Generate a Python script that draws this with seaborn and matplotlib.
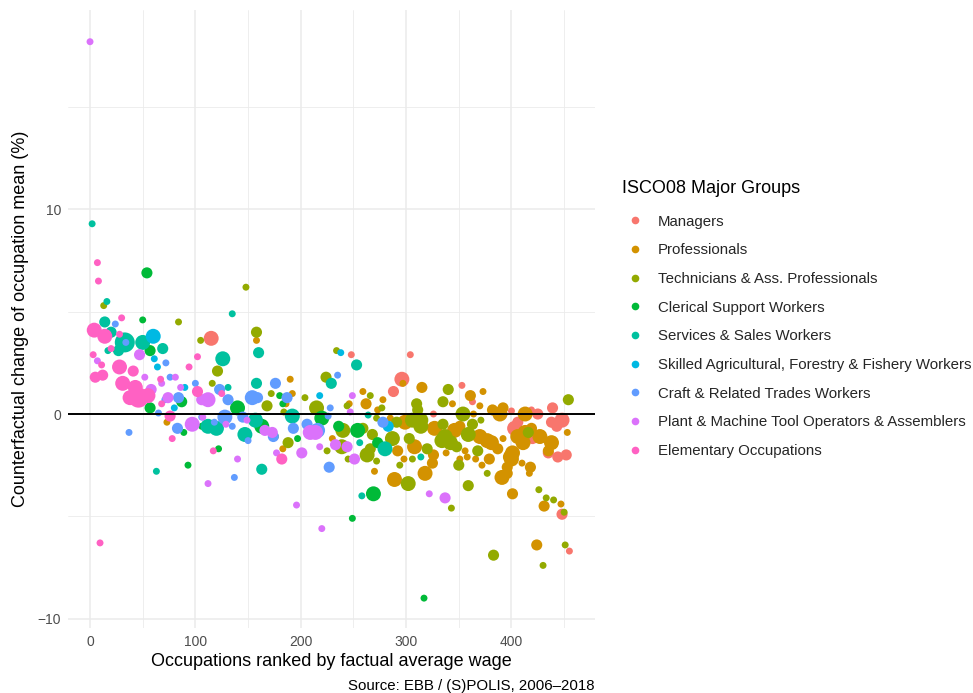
import matplotlib
matplotlib.use("Agg")
import matplotlib.pyplot as plt
from matplotlib.lines import Line2D
from matplotlib.ticker import FixedLocator
import pandas as pd
import seaborn as sns

# ISCO08 major groups and the ggplot-style hue palette
group_names = [
    "Managers",
    "Professionals",
    "Technicians & Ass. Professionals",
    "Clerical Support Workers",
    "Services & Sales Workers",
    "Skilled Agricultural, Forestry & Fishery Workers",
    "Craft & Related Trades Workers",
    "Plant & Machine Tool Operators & Assemblers",
    "Elementary Occupations",
]
group_colors = ["#F8766D", "#D39200", "#93AA00", "#00BA38", "#00C19F",
                "#00B9E3", "#619CFF", "#DB72FB", "#FF61C3"]

# (wage rank, counterfactual change in %, employment weight) per occupation
managers = [
    (115, 3.7, 4.5), (248, 2.9, 1), (304, 2.9, 1), (296, 1.7, 4.5), (288, 1.1, 2.5),
    (326, 0.0, 1), (353, 1.4, 1), (363, 0.6, 1), (400, 0.15, 1), (419, 0.2, 1),
    (425, 0.0, 2.5), (439, 0.3, 2.5), (391, 0.0, 2.5), (403, -0.7, 4.5), (406, -0.4, 2.5),
    (420, -1.2, 2.5), (438, -0.4, 2.5), (448, -0.3, 4.5), (443, -0.6, 2.5), (435, -1.9, 2.5),
    (444, -2.1, 2.5), (452, -2.0, 2.5), (448, -4.9, 2.5), (455, -6.7, 1),
]
professionals = [
    (73, -0.4, 1), (158, 3.6, 1), (190, 1.7, 1), (192, 1.0, 1), (186, 0.5, 1),
    (183, -1.7, 1), (259, 1.1, 1), (262, 0.5, 2.5), (246, 0.5, 1), (278, 0.7, 1),
    (230, -1.2, 1), (273, 0.2, 1), (285, -0.2, 1), (299, -0.4, 4.5), (297, 1.5, 1),
    (315, 1.3, 2.5), (327, -0.7, 4.5), (292, -1.8, 2.5), (308, -1.6, 4.5), (326, -2.0, 2.5),
    (298, -2.2, 1), (325, -2.4, 2.5), (270, -2.8, 1), (289, -3.2, 4.5), (318, -2.9, 4.5),
    (344, 0.5, 1), (361, 0.9, 2.5), (373, 1.1, 1), (370, 0.4, 1), (382, 0.2, 2.5),
    (392, 0.3, 2.5), (364, 0.0, 1), (413, 0.0, 4.5), (389, 0.0, 4.5), (406, -1.1, 4.5),
    (411, -1.4, 4.5), (413, -0.9, 4.5), (419, -0.7, 2.5), (427, -1.1, 4.5), (453, -0.9, 1),
    (438, -1.4, 4.5), (435, -1.8, 2.5), (346, -0.8, 4.5), (351, -0.6, 2.5), (370, -1.1, 4.5),
    (377, -1.3, 4.5), (381, -1.4, 4.5), (387, -1.7, 2.5), (392, -1.2, 1), (366, -2.2, 1),
    (358, -2.1, 1), (351, -2.2, 1), (356, -1.8, 1), (338, -1.9, 1), (379, -2.2, 2.5),
    (372, -2.5, 1), (399, -2.1, 4.5), (400, -2.2, 4.5), (401, -1.9, 4.5), (396, -2.6, 2.5),
    (410, -2.4, 1), (418, -2.6, 2.5), (417, -2.9, 1), (391, -3.1, 4.5), (396, -2.9, 2.5),
    (401, -3.9, 2.5), (431, -4.5, 2.5), (447, -4.4, 1), (424, -6.4, 2.5),
]
technicians = [
    (13, 5.3, 1), (84, 4.5, 1), (105, 3.6, 1), (148, 6.2, 1), (121, 2.1, 2.5),
    (158, 4.0, 2.5), (116, 1.5, 1), (172, 1.0, 1), (168, 0.4, 2.5), (224, 1.8, 2.5),
    (215, 0.3, 4.5), (204, 0.8, 1), (184, 0.1, 1), (176, -1.1, 1), (188, -1.4, 2.5),
    (234, 3.1, 1), (266, 0.9, 1), (244, 0.4, 1), (277, 0.3, 1), (272, -0.2, 1),
    (291, -0.4, 2.5), (306, -0.3, 4.5), (314, -0.3, 4.5), (311, 0.2, 2.5), (314, -0.6, 4.5),
    (335, -0.5, 2.5), (310, 0.5, 2.5), (240, -0.8, 4.5), (259, -0.7, 2.5), (225, -1.8, 1),
    (239, -1.6, 4.5), (268, -1.0, 2.5), (287, -1.2, 4.5), (303, -1.2, 2.5), (320, -1.7, 2.5),
    (245, -2.2, 1), (263, -2.0, 4.5), (272, -2.3, 1), (266, -1.7, 2.5), (306, -2.2, 1),
    (294, -2.5, 1), (302, -3.4, 4.5), (340, 1.2, 2.5), (335, 0.6, 2.5), (354, 0.0, 4.5),
    (371, -0.3, 1), (363, -0.5, 2.5), (454, 0.7, 2.5), (416, -0.9, 2.5), (337, -1.1, 4.5),
    (342, -1.4, 4.5), (334, -1.3, 4.5), (348, -1.6, 2.5), (359, -1.0, 4.5), (368, -1.8, 2.5),
    (350, -2.5, 2.5), (377, -2.9, 1), (359, -3.5, 2.5), (343, -4.6, 1), (426, -3.7, 1),
    (433, -4.1, 1), (440, -4.2, 1), (450, -4.8, 1), (451, -6.4, 1), (383, -6.9, 2.5),
    (430, -7.4, 1),
]
clerical = [
    (54, 6.9, 2.5), (50, 4.6, 1), (57, 3.1, 2.5), (57, 0.3, 2.5), (87, 0.6, 2.5),
    (89, -0.9, 1), (93, -2.5, 1), (140, 0.3, 4.5), (180, 0.9, 1), (183, 0.5, 1),
    (163, -0.6, 4.5), (197, -1.2, 1), (122, -1.7, 1), (220, -0.2, 4.5), (236, -0.6, 2.5),
    (254, -0.8, 4.5), (273, -1.4, 2.5), (269, -3.9, 4.5), (249, -5.1, 1), (317, -9.0, 1),
    (106, -0.6, 1),
]
services = [
    (2, 9.3, 1), (16, 5.5, 1), (14, 4.5, 2.5), (20, 4.0, 2.5), (33, 3.5, 8),
    (27, 3.1, 2.5), (50, 3.5, 4.5), (69, 3.2, 2.5), (17, 3.1, 1), (63, -2.8, 1),
    (135, 4.9, 1), (126, 2.7, 4.5), (160, 3.0, 2.5), (131, 1.3, 1), (158, 1.5, 2.5),
    (192, -0.1, 4.5), (112, -0.6, 4.5), (120, -0.7, 4.5), (147, -1.0, 4.5), (157, -0.3, 4.5),
    (163, -2.7, 2.5), (253, 2.4, 2.5), (229, 1.5, 2.5), (264, -0.05, 1), (256, -1.4, 1),
    (280, -1.7, 4.5), (314, -2.1, 1), (258, -4.0, 1),
]
agricultural = [
    (60, 3.8, 4.5), (61, 2.7, 1), (64, 2.3, 1), (90, 1.3, 1), (80, 0.3, 1),
    (218, 0.9, 1), (238, 3.0, 1), (283, -0.6, 2.5),
]
craft = [
    (24, 4.4, 1), (34, 3.5, 1), (37, -0.9, 1), (72, 2.5, 1), (76, 1.8, 1),
    (65, 0.05, 1), (71, 0.7, 1), (84, 0.8, 2.5), (83, -0.7, 2.5), (100, 1.5, 1),
    (106, -0.15, 1), (123, 1.2, 2.5), (176, 1.5, 2.5), (154, 0.8, 4.5), (159, 0.8, 2.5),
    (187, 0.8, 2.5), (128, -0.15, 4.5), (145, -0.15, 2.5), (150, -1.3, 1), (206, -0.5, 2.5),
    (131, 0.7, 2.5), (193, -0.7, 2.5), (135, -0.6, 1), (118, -0.4, 1), (174, -1.1, 2.5),
    (137, -3.1, 1), (235, 1.9, 1), (228, 0.3, 1), (226, -0.1, 1), (278, -0.4, 2.5),
    (216, -0.8, 4.5), (227, -2.6, 2.5),
]
operators = [
    (0, 18.2, 1), (7, 2.6, 1), (47, 2.9, 2.5), (52, 1.8, 1), (58, 1.2, 2.5),
    (68, 1.5, 1), (81, 1.8, 1), (74, 0.8, 2.5), (86, 1.3, 1), (97, -0.5, 4.5),
    (106, 0.7, 2.5), (112, 0.7, 4.5), (112, -3.4, 1), (107, -0.15, 1), (149, -0.3, 1),
    (166, -0.8, 2.5), (173, -0.9, 2.5), (209, -0.9, 4.5), (214, -0.9, 4.5), (129, -0.5, 1),
    (177, -1.9, 1), (201, -1.9, 2.5), (218, -1.6, 1), (140, -2.2, 1), (196, -4.45, 1),
    (220, -5.6, 1), (249, 0.9, 1), (247, 0.1, 1), (233, -1.5, 2.5), (244, -1.6, 2.5),
    (251, -2.2, 2.5), (322, -3.9, 1), (337, -4.1, 2.5),
]
elementary = [
    (7, 7.4, 1), (8, 6.5, 1), (4, 4.1, 4.5), (14, 3.8, 4.5), (30, 4.7, 1),
    (28, 3.9, 1), (20, 3.2, 1), (3, 2.9, 1), (11, 2.4, 1), (28, 2.3, 4.5),
    (41, 2.1, 2.5), (5, 1.8, 2.5), (12, 1.9, 2.5), (94, 2.3, 1), (102, 2.8, 1),
    (31, 1.5, 4.5), (43, 1.3, 4.5), (46, 0.8, 8), (38, 0.8, 4.5), (55, 0.9, 4.5),
    (67, 1.7, 1), (68, 0.5, 1), (76, -0.1, 2.5), (78, -1.2, 1), (102, 1.1, 2.5),
    (125, 1.0, 1), (117, -1.8, 1), (182, -2.2, 2.5), (9.5, -6.3, 1),
]

group_points = [managers, professionals, technicians, clerical, services,
                agricultural, craft, operators, elementary]

rows = []
for name, pts in zip(group_names, group_points):
    for rank, change, weight in pts:
        rows.append({"rank": rank, "change": change, "employment": weight, "group": name})
df = pd.DataFrame(rows)

sns.set_style("white")
plt.rcParams["font.family"] = ["Liberation Sans", "DejaVu Sans"]

fig = plt.figure(figsize=(9.73, 6.93), dpi=100)
ax = fig.add_axes([68 / 973, 1 - 628 / 693, (595 - 68) / 973, (628 - 10) / 693])

grid_col = "#EBEBEB"
ax.set_xlim(-20.9, 479.3)
ax.set_ylim(-10.46, 19.75)
ax.xaxis.set_major_locator(FixedLocator([0, 100, 200, 300, 400]))
ax.xaxis.set_minor_locator(FixedLocator([50, 150, 250, 350, 450]))
ax.yaxis.set_major_locator(FixedLocator([-10, 0, 10]))
ax.yaxis.set_minor_locator(FixedLocator([-5, 5, 15]))
ax.grid(which="major", color=grid_col, linewidth=1.1)
ax.grid(which="minor", color=grid_col, linewidth=0.6)
ax.set_axisbelow(True)
for sp in ax.spines.values():
    sp.set_visible(False)

sns.scatterplot(
    data=df, x="rank", y="change",
    hue="group", hue_order=group_names, palette=group_colors,
    size="employment", sizes=(25, 207), size_norm=(1, 8),
    linewidth=0, alpha=1, legend=False, ax=ax, zorder=2,
)
ax.axhline(0, color="black", linewidth=1.4, zorder=3)

ax.tick_params(axis="both", which="both", length=0, labelsize=10,
               labelcolor="#4D4D4D", pad=5)
ax.set_xlabel("Occupations ranked by factual average wage", fontsize=13,
              color="black", labelpad=3)
ax.set_ylabel("Counterfactual change of occupation mean (%)", fontsize=13,
              color="black", labelpad=6)

fig.text(595 / 973, 1 - 686 / 693, "Source: EBB / (S)POLIS, 2006\u20132018",
         ha="right", va="center", fontsize=10.8, color="black")

# Colour legend: title placed on its own, entries below it
fig.text(622 / 973, 1 - 188 / 693, "ISCO08 Major Groups", ha="left", va="center",
         fontsize=13, color="black")
handles = [Line2D([], [], marker="o", linestyle="", color=c, markersize=5.5,
                  markeredgewidth=0) for c in group_colors]
leg = fig.legend(handles, group_names,
                 loc="upper left", bbox_to_anchor=(609 / 973, 1 - 201 / 693),
                 frameon=False, fontsize=10.8,
                 labelspacing=0.98, handletextpad=0.75, handlelength=1.6)

fig.savefig("out.png", dpi=100)
